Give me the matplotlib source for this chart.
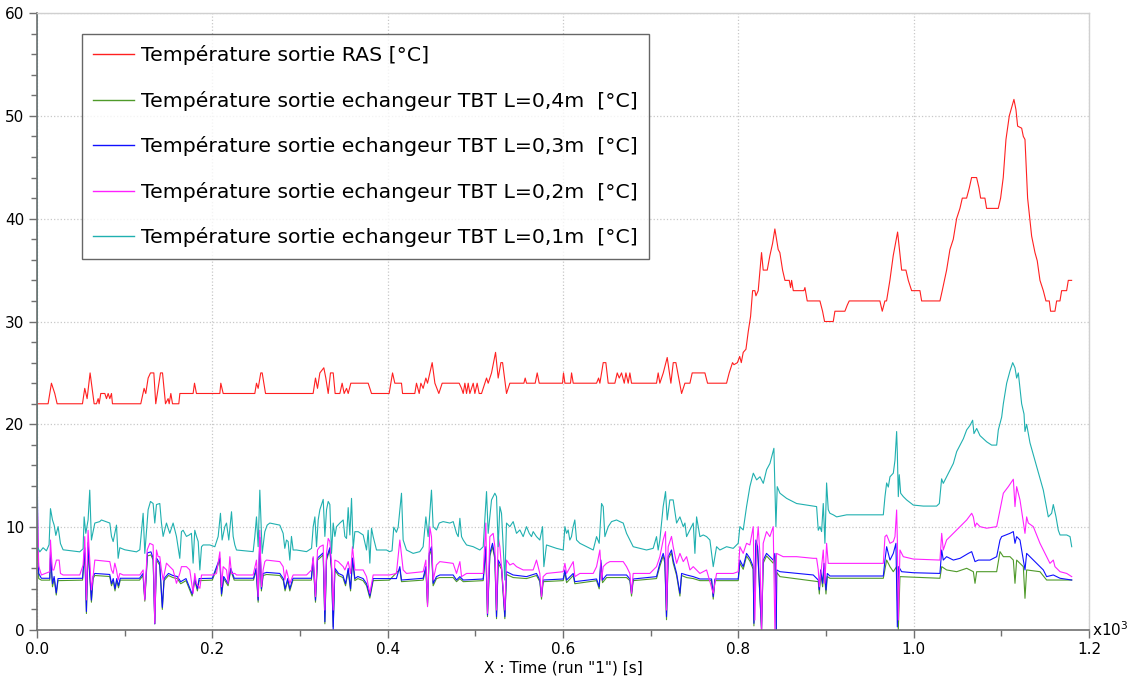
import matplotlib
matplotlib.use("Agg")
import matplotlib.pyplot as plt
from matplotlib.ticker import MultipleLocator, FuncFormatter
import numpy as np

# ---------------- data (time [s], value [°C]) ----------------
ras = [(0, 22), (12.7, 22), (16.5, 24), (20.3, 23), (23.0, 22), (51.9, 22), (54.5, 23.5), (57.2, 22.5),
       (60.6, 25), (65.2, 22), (67.9, 22), (69.8, 22.5), (70.9, 22), (72.8, 23), (77.4, 23), (79.3, 22.5),
       (81.2, 23), (83.1, 22.5), (85.0, 23), (86.1, 22), (118.4, 22), (122.2, 23.5), (124.1, 23),
       (126.8, 24.5), (129.5, 25), (133.3, 25), (135.5, 22), (138.2, 23.5), (140.9, 25), (143.2, 25),
       (146.6, 22), (149.6, 22.5), (150.8, 22), (152.7, 23), (154.6, 22), (161.8, 22), (163.0, 23),
       (178.1, 23), (179.7, 24), (181.9, 23), (208.6, 23), (209.7, 24), (212.4, 23), (248.5, 23),
       (250.4, 24), (252.3, 23.5), (255.3, 25), (256.9, 25), (260.7, 23), (315.0, 23), (317.7, 24.5),
       (320.0, 23.5), (322.7, 25), (327.2, 25.5), (329.5, 24.5), (332.2, 23), (334.8, 25), (337.9, 25),
       (340.1, 23), (345.5, 23), (348.1, 24), (350.4, 23), (353.1, 23.5), (355.0, 23), (358.0, 24),
       (377.8, 24), (379.7, 23.5), (381.6, 23), (401.7, 23), (405.6, 25), (408.2, 24), (415.8, 24),
       (417.0, 23), (431.0, 23), (432.9, 24), (436.0, 23), (437.9, 24), (440.5, 23.5), (443.6, 24.5),
       (445.5, 24), (450.8, 26), (453.9, 24), (458.4, 23), (462.2, 24), (481.6, 24), (484.3, 23.5),
       (486.2, 23), (488.1, 24), (490.0, 23), (491.9, 24), (493.8, 23), (497.6, 24), (499.5, 23),
       (502.1, 24), (504.4, 23), (507.1, 23), (512.8, 24.5), (514.7, 24), (518.5, 25), (523.1, 27),
       (526.1, 24.5), (529.2, 26), (531.1, 26), (535.6, 23), (539.4, 24), (555.4, 24), (556.9, 24.5),
       (558.4, 24), (568.3, 24), (570.6, 25), (572.9, 24), (599.5, 24), (600.6, 25), (602.2, 24),
       (608.6, 24), (609.8, 25), (611.7, 24), (638.3, 24), (640.6, 24.5), (642.1, 24), (645.9, 26),
       (648.9, 26), (651.6, 24), (659.2, 24), (661.9, 25), (664.2, 24.5), (666.8, 25), (669.9, 24),
       (671.8, 25), (674.4, 24), (676.3, 25), (678.2, 24), (706.7, 24), (708.6, 25), (710.5, 24),
       (714.4, 25), (718.9, 26.5), (723.1, 24), (725.8, 26), (728.8, 26), (735.3, 23), (739.1, 24),
       (744.8, 24), (747.4, 25), (761.9, 25), (764.9, 24), (786.6, 24), (789.6, 25), (793.4, 26),
       (795.0, 25.8), (799.0, 26), (801.6, 26.6), (803.4, 26), (805.6, 27), (808.7, 27.3), (811.3, 29),
       (814.0, 30.5), (816.3, 33), (818.9, 33), (820.1, 32.5), (822.7, 33), (826.5, 36.7), (828.4, 35),
       (833.0, 35), (836.0, 36.4), (839.1, 37.6), (841.7, 39), (845.5, 37), (847.4, 36.7), (850.5, 35),
       (853.2, 34), (858.1, 34), (859.6, 33.3), (860.8, 34), (862.7, 33), (874.8, 33), (876.0, 33.3),
       (878.6, 32), (893.1, 32), (896.1, 31), (898.4, 30), (908.3, 30), (910.2, 31), (921.6, 31),
       (924.3, 31.6), (926.5, 32), (961.5, 32), (964.2, 31), (967.2, 32), (969.1, 32), (972.9, 34),
       (976.7, 36.4), (981.7, 38.7), (986.3, 35), (991.2, 35), (993.9, 34), (997.7, 33), (1007.2, 33),
       (1009.1, 32), (1030.0, 32), (1032.6, 33), (1037.6, 35), (1041.4, 37), (1045.2, 38), (1049.0, 40),
       (1052.8, 41), (1055.5, 42), (1060.4, 42), (1063.5, 43), (1066.1, 44), (1071.8, 44), (1074.5, 43),
       (1076.4, 42), (1081.3, 42), (1083.2, 41), (1096.5, 41), (1099.2, 42), (1102.2, 44), (1105.3, 47.7),
       (1109.1, 50), (1114.4, 51.6), (1116.7, 50.6), (1118.6, 49), (1123.2, 48.8), (1125.1, 48),
       (1127.0, 47.7), (1130.0, 42), (1134.6, 38.3), (1138.4, 36.7), (1141.0, 35.9), (1144.1, 34),
       (1147.9, 33), (1150.9, 32), (1154.7, 32), (1156.2, 31), (1161.2, 31), (1163.1, 32), (1166.9, 32),
       (1168.8, 33), (1174.5, 33), (1176.4, 34), (1180.2, 34)]

tbt_01 = [(0, 62), (0.5, 8.1), (3.2, 7.6), (7.0, 8.0), (10.8, 7.7), (13.8, 8.3), (15.4, 11.8), (17.7, 10.7),
          (19.6, 10.2), (21.5, 9.2), (24.1, 10.05), (26.8, 8.4), (29.8, 7.8), (48.8, 7.6), (52.6, 7.9),
          (53.8, 11.0), (55.7, 9.4), (58.3, 10.7), (60.2, 13.6), (62.1, 8.75), (64.0, 9.56), (66.0, 10.4),
          (71.6, 10.54), (73.5, 10.7), (83.1, 10.4), (85.0, 9.1), (86.9, 8.6), (88.8, 9.4), (90.7, 10.2),
          (92.6, 6.97), (94.5, 8.0), (100.2, 7.8), (113.5, 7.6), (117.3, 7.8), (121.1, 11.35), (123.0, 7.45),
          (126.8, 11.7), (129.5, 12.5), (132.5, 12.3), (134.4, 10.4), (136.3, 12.2), (140.1, 12.3),
          (142.0, 10.4), (143.9, 9.1), (147.7, 10.4), (151.5, 9.4), (155.3, 10.4), (159.1, 9.1),
          (162.9, 6.97), (164.8, 9.56), (166.7, 9.7), (170.5, 9.1), (173.6, 9.24), (176.2, 9.4), (178.1, 6.5),
          (180.0, 9.7), (182.0, 9.1), (183.9, 8.6), (185.8, 5.84), (187.7, 8.1), (189.6, 8.27), (197.2, 8.27),
          (202.9, 8.1), (206.7, 9.1), (209.3, 11.35), (211.2, 8.75), (214.3, 10.05), (216.2, 10.4),
          (218.8, 8.75), (221.9, 11.5), (223.8, 9.1), (225.7, 8.27), (227.6, 7.78), (246.6, 7.62),
          (248.5, 9.1), (250.4, 11.0), (252.3, 8.1), (254.2, 13.6), (256.9, 7.45), (259.9, 9.56),
          (262.6, 10.2), (265.6, 10.4), (277.0, 10.2), (280.8, 9.4), (282.7, 7.94), (284.6, 8.75),
          (286.5, 8.6), (288.4, 6.8), (290.3, 9.1), (292.2, 7.78), (296.0, 7.78), (307.5, 7.62),
          (313.2, 7.94), (315.1, 10.05), (317.0, 11.0), (318.9, 8.1), (320.8, 10.7), (322.7, 11.7),
          (326.5, 12.7), (328.4, 9.1), (330.3, 11.7), (332.2, 12.5), (334.1, 12.2), (336.0, 7.45),
          (337.9, 10.4), (339.8, 9.1), (341.7, 10.05), (345.5, 10.4), (349.3, 10.7), (351.2, 9.1),
          (353.1, 8.9), (355.0, 11.9), (356.9, 9.24), (358.8, 12.8), (360.7, 7.94), (362.6, 9.56),
          (366.4, 9.56), (372.1, 9.24), (375.9, 7.78), (377.8, 9.7), (379.7, 6.5), (381.6, 9.9),
          (383.5, 9.08), (387.3, 7.78), (398.7, 7.78), (402.0, 7.62), (405.0, 7.7), (407.0, 10.0),
          (410.0, 9.5), (412.0, 10.0), (415.8, 13.3), (417.7, 8.75), (421.5, 7.78), (429.1, 7.45),
          (436.7, 7.62), (440.5, 8.1), (443.6, 11.0), (446.2, 9.08), (450.0, 13.6), (451.9, 10.05),
          (455.7, 9.73), (458.8, 10.4), (463.3, 10.54), (471.0, 10.4), (474.8, 10.54), (478.6, 9.4),
          (480.5, 9.08), (482.4, 10.86), (484.3, 9.08), (486.2, 8.75), (490.0, 8.27), (497.6, 8.1),
          (505.2, 7.78), (509.0, 8.1), (510.9, 10.7), (512.8, 13.46), (514.7, 9.4), (518.5, 12.65),
          (522.3, 13.3), (524.2, 12.97), (526.1, 8.1), (528.0, 12.0), (529.9, 11.35), (533.7, 4.86),
          (535.6, 10.4), (539.4, 10.05), (543.2, 10.54), (547.0, 9.4), (550.8, 9.73), (554.6, 9.08),
          (558.4, 10.05), (561.5, 9.4), (564.1, 9.08), (566.0, 9.57), (569.8, 9.08), (573.6, 8.75),
          (576.7, 10.05), (578.2, 6.16), (581.2, 8.27), (592.6, 7.94), (600.3, 7.78), (602.2, 10.05),
          (604.1, 9.4), (605.9, 9.73), (607.8, 8.75), (609.7, 9.08), (611.6, 10.05), (613.5, 10.7),
          (615.5, 8.75), (619.3, 8.43), (626.9, 8.1), (634.5, 7.78), (638.3, 9.08), (641.3, 8.43),
          (644.0, 12.3), (645.9, 12.0), (647.8, 9.08), (651.6, 10.05), (655.4, 10.54), (661.1, 10.7),
          (664.9, 10.54), (668.7, 10.4), (672.5, 9.4), (676.3, 8.75), (680.1, 8.1), (687.7, 7.94),
          (695.3, 7.78), (702.9, 7.94), (706.7, 9.08), (708.6, 7.78), (710.5, 8.75), (714.3, 12.0),
          (717.0, 13.46), (718.9, 10.7), (721.9, 12.65), (725.7, 12.65), (729.6, 10.4), (733.4, 11.0),
          (737.2, 10.05), (739.1, 10.4), (741.0, 9.08), (744.8, 9.73), (748.6, 10.4), (750.5, 7.45),
          (752.4, 11.0), (756.2, 9.08), (760.0, 9.24), (763.8, 9.08), (767.6, 8.75), (771.4, 6.16),
          (775.2, 8.1), (779.0, 7.78), (786.6, 8.1), (794.2, 7.94), (799.9, 8.43), (801.8, 10.05),
          (805.6, 9.73), (809.4, 12.0), (813.2, 13.94), (817.1, 15.25), (820.9, 14.6), (824.7, 14.9),
          (828.5, 14.26), (832.3, 15.6), (836.1, 16.2), (840.6, 17.67), (842.9, 10.05), (844.4, 13.94),
          (847.5, 13.3), (855.1, 12.8), (866.5, 12.3), (877.9, 12.15), (889.3, 12.0), (891.2, 9.7),
          (893.1, 10.05), (895.0, 9.57), (896.9, 12.3), (898.8, 8.43), (900.7, 14.3), (902.6, 11.7),
          (904.5, 11.35), (908.3, 11.2), (912.2, 11.0), (923.6, 11.2), (942.6, 11.2), (965.4, 11.2),
          (967.3, 12.97), (969.2, 14.3), (971.1, 13.9), (973.0, 14.9), (976.8, 15.25), (978.7, 16.5),
          (980.6, 19.3), (981.4, 17.2), (982.5, 12.97), (983.6, 15.1), (985.2, 13.3), (988.2, 12.97),
          (992.0, 12.65), (999.6, 12.15), (1011.0, 12.05), (1026.2, 12.05), (1029.3, 12.3), (1031.9, 14.7),
          (1033.8, 14.26), (1037.6, 14.9), (1045.3, 16.2), (1049.1, 17.35), (1052.9, 17.98), (1056.7, 18.6),
          (1060.5, 19.46), (1064.3, 19.9), (1067.3, 20.4), (1068.8, 19.1), (1071.9, 19.6), (1075.7, 18.9),
          (1083.3, 18.3), (1089.0, 17.98), (1094.7, 17.98), (1096.6, 19.46), (1100.4, 20.7), (1102.3, 22.0),
          (1106.1, 24.0), (1109.9, 25.2), (1113.0, 26.0), (1115.6, 25.5), (1117.5, 24.5), (1119.4, 25.0),
          (1123.2, 22.0), (1125.9, 21.0), (1127.0, 19.3), (1128.9, 20.0), (1132.7, 18.2), (1140.3, 15.9),
          (1147.9, 13.6), (1153.6, 11.0), (1157.4, 11.35), (1159.3, 12.2), (1162.4, 11.0), (1165.0, 9.7),
          (1167.0, 9.24), (1174.6, 9.24), (1178.4, 9.08), (1180.3, 8.1)]

tbt_02 = [(0, 12.0), (0.5, 12.0), (2.0, 6.2), (5.1, 5.35), (14.6, 5.67), (15.4, 8.75), (16.5, 7.13),
          (17.7, 5.84), (19.2, 5.84), (22.2, 6.8), (25.3, 6.8), (26.8, 5.5), (29.8, 5.35), (48.8, 5.35),
          (52.6, 6.3), (54.5, 9.08), (56.4, 2.92), (58.3, 9.7), (60.2, 6.8), (62.1, 3.9), (64.0, 5.19),
          (66.0, 6.8), (83.1, 6.65), (85.0, 5.84), (86.9, 5.5), (88.8, 6.5), (90.7, 5.84), (92.6, 4.86),
          (94.5, 5.5), (98.3, 5.35), (117.3, 5.35), (121.1, 5.84), (123.0, 2.92), (125.7, 7.78),
          (128.7, 8.43), (132.5, 8.27), (134.4, 0.65), (136.3, 7.78), (138.2, 7.13), (140.1, 7.13),
          (142.0, 5.84), (143.9, 4.86), (147.7, 6.5), (151.5, 6.16), (155.3, 5.84), (159.1, 4.54),
          (162.9, 5.5), (164.8, 6.16), (170.5, 6.16), (174.3, 5.84), (178.1, 3.57), (180.0, 5.5),
          (181.9, 4.54), (185.8, 4.05), (187.7, 5.35), (201.0, 5.35), (204.8, 5.5), (208.6, 7.6),
          (210.5, 4.2), (212.4, 6.16), (216.2, 5.84), (218.1, 4.54), (220.0, 7.13), (221.9, 5.5),
          (225.7, 5.5), (227.6, 5.35), (246.6, 5.35), (250.4, 6.8), (252.3, 3.24), (254.2, 9.7),
          (256.1, 4.2), (258.0, 5.84), (259.9, 6.65), (261.8, 6.8), (277.0, 6.65), (280.8, 6.16),
          (282.7, 4.86), (284.6, 5.84), (288.4, 4.54), (292.2, 5.35), (307.5, 5.35), (313.2, 5.84),
          (315.1, 7.13), (317.7, 3.24), (320.0, 7.78), (322.7, 8.1), (326.5, 8.27), (328.4, 1.94),
          (330.3, 7.45), (332.2, 8.9), (334.1, 8.6), (336.0, 6.5), (337.9, 1.94), (339.8, 6.8),
          (343.6, 6.65), (349.3, 6.16), (351.2, 5.84), (355.0, 6.65), (357.7, 5.5), (359.9, 8.1),
          (362.6, 5.84), (366.4, 5.84), (372.1, 5.84), (375.9, 5.19), (379.7, 3.57), (383.5, 5.35),
          (402.0, 5.35), (410.0, 5.5), (413.9, 8.75), (417.7, 5.84), (421.5, 5.5), (440.5, 5.67),
          (443.6, 6.8), (445.5, 2.27), (448.1, 10.05), (450.0, 9.08), (451.9, 4.86), (455.7, 6.32),
          (459.5, 6.65), (474.7, 6.48), (478.6, 5.5), (482.4, 6.65), (484.3, 5.19), (490.0, 5.5),
          (509.0, 5.5), (512.0, 10.4), (513.9, 1.62), (516.6, 9.08), (520.4, 9.4), (522.3, 8.1),
          (524.2, 1.94), (526.1, 9.08), (528.0, 8.1), (533.7, 1.94), (535.6, 6.8), (539.4, 6.32),
          (543.2, 6.48), (547.0, 6.16), (554.6, 5.84), (566.0, 5.84), (569.8, 6.8), (573.6, 5.5),
          (575.5, 3.24), (577.4, 5.19), (581.2, 5.5), (600.3, 5.67), (602.2, 6.48), (604.1, 5.5),
          (611.7, 6.65), (613.6, 5.19), (619.3, 5.5), (634.5, 5.5), (638.3, 6.16), (642.1, 7.78),
          (644.0, 4.86), (645.9, 6.16), (649.7, 6.48), (653.5, 6.65), (668.7, 6.65), (672.5, 6.16),
          (676.3, 5.5), (678.2, 3.57), (680.1, 5.5), (699.1, 5.5), (706.7, 6.16), (710.5, 7.13),
          (714.3, 8.75), (717.0, 9.57), (718.1, 1.94), (720.0, 8.1), (723.8, 9.1), (725.7, 8.1),
          (729.6, 6.48), (733.4, 7.45), (737.2, 6.65), (741.0, 7.13), (744.8, 5.84), (748.6, 6.16),
          (756.2, 5.5), (763.8, 5.84), (771.4, 3.57), (775.2, 5.5), (794.2, 5.5), (799.9, 5.67),
          (801.8, 8.1), (805.6, 7.45), (809.4, 8.43), (813.2, 8.27), (817.0, 10.05), (818.9, 0.97),
          (820.8, 8.1), (822.7, 10.05), (824.6, 7.45), (826.5, 0.0), (828.4, 8.43), (832.2, 9.57),
          (836.0, 9.08), (839.8, 10.05), (841.7, 0.0), (843.6, 7.45), (851.2, 7.13), (866.5, 7.13),
          (885.5, 6.97), (889.3, 6.97), (891.2, 5.84), (892.4, 4.2), (895.0, 6.16), (896.9, 7.78),
          (898.8, 4.54), (900.7, 8.43), (902.6, 6.48), (904.5, 6.48), (965.4, 6.48), (967.3, 9.08),
          (969.2, 9.24), (973.0, 8.43), (976.8, 8.6), (978.7, 9.08), (980.6, 11.67), (981.4, 8.75),
          (982.5, 0.97), (984.4, 7.78), (988.2, 7.13), (999.6, 6.9), (1030.0, 6.8), (1032.0, 9.4),
          (1033.8, 7.78), (1037.6, 8.75), (1045.3, 9.4), (1052.9, 10.05), (1060.5, 10.7), (1066.2, 11.35),
          (1068.1, 11.0), (1070.0, 10.05), (1071.9, 10.4), (1075.7, 10.05), (1083.3, 9.9), (1094.7, 10.05),
          (1098.5, 11.67), (1102.3, 13.3), (1108.0, 13.94), (1113.7, 14.66), (1115.6, 12.0), (1117.5, 13.94),
          (1121.3, 12.65), (1127.0, 9.4), (1128.9, 11.0), (1130.8, 10.4), (1136.5, 10.05), (1144.1, 8.43),
          (1151.7, 7.13), (1155.5, 6.48), (1159.3, 6.8), (1161.2, 6.16), (1167.0, 5.67), (1174.6, 5.5),
          (1180.3, 5.19)]

tbt_03 = [(0, 18.5), (1.0, 9.0), (2.0, 5.5), (5.0, 5.03), (14.6, 5.03), (15.4, 7.6), (17.7, 4.5), (19.6, 5.2),
          (22.0, 3.6), (24.0, 5.0), (52.0, 5.03), (54.5, 8.0), (56.4, 1.8), (58.3, 8.5), (60.2, 5.5),
          (62.1, 2.9), (64.0, 5.2), (66.0, 5.5), (83.0, 5.4), (85.0, 4.5), (87.0, 5.0), (89.0, 4.0),
          (91.0, 5.0), (93.0, 4.3), (95.0, 5.03), (117.0, 5.03), (121.0, 5.5), (123.0, 3.0), (126.0, 7.5),
          (130.0, 7.6), (132.5, 7.0), (134.4, 0.6), (136.3, 7.0), (140.0, 6.5), (143.0, 2.2), (145.0, 5.0),
          (150.0, 5.5), (155.0, 5.3), (160.0, 5.2), (164.0, 4.7), (170.0, 5.0), (177.0, 3.5), (180.0, 5.0),
          (183.0, 4.0), (185.0, 5.0), (200.0, 5.03), (208.6, 7.0), (210.5, 3.5), (213.0, 5.2), (218.0, 4.5),
          (221.0, 6.0), (225.0, 5.03), (247.0, 5.03), (250.0, 6.0), (252.3, 2.9), (254.2, 9.0), (256.0, 4.0),
          (258.0, 5.5), (262.0, 5.6), (277.0, 5.5), (281.0, 5.0), (283.0, 4.0), (286.0, 5.0), (288.4, 4.0),
          (292.0, 5.03), (313.0, 5.03), (315.0, 7.0), (317.7, 2.9), (320.0, 7.0), (326.5, 7.5), (328.4, 0.8),
          (330.3, 7.0), (334.0, 8.0), (336.0, 6.0), (337.9, 0.0), (339.8, 6.0), (344.0, 5.5), (349.0, 5.3),
          (352.0, 4.5), (355.0, 6.0), (357.7, 4.0), (360.0, 7.0), (362.6, 5.0), (366.0, 5.2), (372.0, 5.0),
          (376.0, 4.5), (379.7, 3.3), (383.5, 5.0), (402.0, 5.0), (410.0, 5.0), (413.9, 6.16), (415.8, 4.86),
          (440.5, 5.03), (443.6, 6.16), (445.5, 2.6), (447.4, 7.45), (450.0, 8.1), (451.9, 4.54),
          (455.7, 5.19), (459.5, 5.35), (474.7, 5.35), (478.6, 4.86), (482.4, 5.19), (486.2, 4.86),
          (509.0, 4.96), (512.0, 8.1), (513.9, 1.46), (516.6, 7.45), (519.6, 8.43), (522.3, 7.13),
          (524.2, 1.3), (526.1, 6.8), (529.9, 6.16), (533.7, 1.3), (535.6, 5.67), (543.2, 5.35),
          (558.4, 5.19), (569.8, 5.5), (573.6, 4.86), (575.5, 3.24), (577.4, 4.86), (600.3, 4.96),
          (602.2, 5.84), (604.1, 4.86), (611.7, 5.5), (613.5, 4.7), (638.3, 4.96), (641.3, 4.2),
          (643.2, 6.8), (645.1, 4.86), (649.7, 5.35), (672.5, 5.35), (676.3, 4.96), (678.2, 3.57),
          (680.1, 4.96), (706.7, 5.19), (710.5, 6.48), (714.3, 7.45), (716.2, 6.8), (718.1, 1.3),
          (720.0, 7.13), (723.8, 7.78), (725.7, 6.8), (729.6, 5.5), (733.4, 3.57), (735.3, 5.5),
          (741.0, 5.35), (748.6, 5.19), (756.2, 4.96), (769.5, 4.96), (771.4, 3.24), (773.3, 4.96),
          (799.9, 4.96), (801.8, 6.8), (805.6, 6.16), (809.4, 7.45), (813.2, 6.97), (817.0, 6.16),
          (817.8, 0.65), (820.1, 8.75), (822.0, 8.1), (826.5, 0.0), (828.4, 6.8), (832.2, 7.45),
          (839.8, 6.8), (841.7, 7.45), (843.3, 0.0), (843.8, 5.84), (847.5, 5.67), (885.5, 5.35),
          (891.2, 4.86), (892.4, 3.9), (893.9, 5.84), (896.2, 4.54), (897.7, 6.48), (900.0, 3.89),
          (901.5, 5.5), (904.5, 5.25), (965.4, 5.25), (967.3, 6.8), (969.2, 8.1), (973.0, 6.8),
          (976.8, 7.45), (979.8, 8.43), (981.4, 0.3), (982.9, 6.16), (986.3, 5.67), (999.6, 5.57),
          (1030.0, 5.5), (1032.0, 7.78), (1033.8, 6.8), (1037.6, 7.13), (1045.3, 6.8), (1052.9, 6.97),
          (1062.4, 7.45), (1066.2, 7.62), (1070.0, 6.65), (1073.8, 6.8), (1087.1, 6.8), (1094.7, 7.13),
          (1098.5, 8.75), (1100.4, 9.08), (1109.9, 9.4), (1113.7, 9.57), (1115.6, 8.43), (1117.5, 9.08),
          (1121.3, 8.75), (1127.0, 5.84), (1128.9, 7.45), (1136.5, 6.8), (1144.1, 6.16), (1147.9, 5.84),
          (1151.7, 5.19), (1159.3, 5.35), (1167.0, 5.03), (1180.3, 4.86)]

tbt_04 = [(0, 36.0), (0.5, 8.0), (2.0, 5.0), (5.0, 4.85), (14.6, 4.85), (15.4, 7.0), (17.7, 4.2), (19.6, 5.0),
          (22.0, 3.4), (24.0, 4.8), (52.0, 4.85), (54.5, 7.5), (56.4, 1.6), (58.3, 8.0), (60.2, 5.2),
          (62.1, 2.7), (64.0, 5.0), (66.0, 5.3), (83.0, 5.2), (85.0, 4.3), (87.0, 4.8), (89.0, 3.8),
          (91.0, 4.8), (93.0, 4.1), (95.0, 4.85), (117.0, 4.85), (121.0, 5.3), (123.0, 2.8), (126.0, 7.2),
          (130.0, 7.3), (132.5, 6.8), (134.4, 0.6), (136.3, 6.8), (140.0, 6.3), (143.0, 2.0), (145.0, 4.8),
          (150.0, 5.3), (155.0, 5.1), (160.0, 5.0), (164.0, 4.5), (170.0, 4.8), (177.0, 3.3), (180.0, 4.8),
          (183.0, 3.8), (185.0, 4.8), (200.0, 4.85), (208.6, 6.8), (210.5, 3.3), (213.0, 5.0), (218.0, 4.3),
          (221.0, 5.8), (225.0, 4.85), (247.0, 4.85), (250.0, 5.8), (252.3, 2.7), (254.2, 8.7), (256.0, 3.8),
          (258.0, 5.3), (262.0, 5.4), (277.0, 5.3), (281.0, 4.8), (283.0, 3.8), (286.0, 4.8), (288.4, 3.8),
          (292.0, 4.85), (313.0, 4.85), (315.0, 6.8), (317.7, 2.7), (320.0, 6.8), (326.5, 7.3), (328.4, 0.6),
          (330.3, 6.8), (334.0, 7.8), (336.0, 5.8), (337.9, 0.3), (339.8, 5.8), (344.0, 5.3), (349.0, 5.1),
          (352.0, 4.3), (355.0, 5.8), (357.7, 3.8), (360.0, 6.8), (362.6, 4.8), (366.0, 5.0), (372.0, 4.8),
          (376.0, 4.3), (379.7, 3.1), (383.5, 4.8), (402.0, 4.85), (413.9, 5.9), (415.8, 4.7), (440.5, 4.85),
          (443.6, 5.9), (445.5, 2.4), (447.4, 7.2), (450.0, 7.8), (451.9, 4.3), (455.7, 5.0), (459.5, 5.1),
          (474.7, 5.1), (478.6, 4.7), (482.4, 5.0), (486.2, 4.7), (509.0, 4.8), (512.0, 7.8), (513.9, 1.3),
          (516.6, 7.2), (519.6, 8.1), (522.3, 6.9), (524.2, 1.1), (526.1, 6.5), (529.9, 5.9), (533.7, 1.1),
          (535.6, 5.4), (543.2, 5.1), (558.4, 5.0), (569.8, 5.3), (573.6, 4.7), (575.5, 3.0), (577.4, 4.7),
          (600.3, 4.8), (602.2, 5.6), (604.1, 4.6), (611.7, 5.3), (613.5, 4.5), (638.3, 4.8), (641.3, 4.0),
          (643.2, 6.5), (645.1, 4.6), (649.7, 5.1), (672.5, 5.1), (676.3, 4.8), (678.2, 3.3), (680.1, 4.8),
          (706.7, 5.0), (710.5, 6.2), (714.3, 7.2), (716.2, 6.5), (718.1, 1.0), (720.0, 6.9), (723.8, 7.5),
          (725.7, 6.5), (729.6, 5.3), (733.4, 3.3), (735.3, 5.3), (741.0, 5.1), (748.6, 5.0), (756.2, 4.8),
          (769.5, 4.8), (771.4, 3.0), (773.3, 4.8), (799.9, 4.8), (801.8, 6.5), (805.6, 5.9), (809.4, 7.2),
          (813.2, 6.7), (817.0, 5.9), (817.8, 0.4), (820.1, 8.4), (822.0, 7.8), (826.5, 0.0), (828.4, 6.5),
          (832.2, 7.2), (839.8, 6.5), (841.7, 7.2), (843.3, 0.0), (843.8, 5.6), (847.5, 5.19), (891.2, 4.7),
          (892.4, 3.5), (893.9, 5.5), (896.2, 4.2), (897.7, 6.0), (900.0, 3.5), (901.5, 5.2), (904.5, 5.03),
          (965.4, 5.03), (969.2, 6.8), (973.0, 6.16), (976.8, 5.67), (980.6, 6.16), (982.5, 0.0),
          (984.4, 5.19), (1030.0, 5.03), (1032.0, 6.16), (1037.6, 5.84), (1049.1, 5.67), (1060.5, 6.0),
          (1068.1, 5.67), (1070.0, 4.54), (1071.9, 5.67), (1094.7, 5.67), (1098.5, 7.62), (1102.3, 7.13),
          (1109.9, 7.13), (1113.7, 6.8), (1115.6, 4.54), (1117.5, 6.8), (1125.1, 6.16), (1127.0, 3.08),
          (1128.9, 5.84), (1144.1, 5.67), (1151.7, 4.86), (1180.3, 4.86)]

series_labels = ["Température sortie RAS [°C]",
                 "Température sortie echangeur TBT L=0,4m  [°C]",
                 "Température sortie echangeur TBT L=0,3m  [°C]",
                 "Température sortie echangeur TBT L=0,2m  [°C]",
                 "Température sortie echangeur TBT L=0,1m  [°C]"]
series_data = [ras, tbt_04, tbt_03, tbt_02, tbt_01]
series_colors = ["#ff2020", "#4f9a2a", "#1010ff", "#ff20ff", "#20b0b0"]

x_ticks = [0.0, 0.2, 0.4, 0.6, 0.8, 1.0, 1.2]
y_ticks = [0, 10, 20, 30, 40, 50, 60]

# ---------------- figure ----------------
fig = plt.figure(figsize=(11.34, 6.85), dpi=100)
ax = fig.add_axes([0.0326, 0.0803, 0.9277, 0.9007])

for data, col, lab in zip(series_data, series_colors, series_labels):
    arr = np.array(data, dtype=float)
    ax.plot(arr[:, 0] / 1000.0, arr[:, 1], color=col, lw=0.8, label=lab)

ax.set_xlim(0, 1.2)
ax.set_ylim(0, 60)
ax.set_xticks(x_ticks)
ax.set_yticks(y_ticks)
ax.xaxis.set_minor_locator(MultipleLocator(0.1))
ax.yaxis.set_minor_locator(MultipleLocator(2))
ax.xaxis.set_major_formatter(FuncFormatter(lambda v, p: f"{v:.1f}"))
ax.tick_params(axis="both", which="major", direction="out", length=6, width=1,
               color="#707070", labelsize=11, pad=3)
ax.tick_params(axis="both", which="minor", direction="out", length=4, width=1,
               color="#707070")
ax.grid(True, which="major", linestyle=":", color="#c8c8c8", lw=0.9)

for s in ("left", "bottom"):
    ax.spines[s].set_color("#707070")
    ax.spines[s].set_linewidth(1.2)
for s in ("top", "right"):
    ax.spines[s].set_color("#d0d0d0")
    ax.spines[s].set_linewidth(1.0)

ax.set_xlabel('X : Time (run "1") [s]', fontsize=11, labelpad=2)
ax.text(1.003, 0.0, r"x10$^3$", transform=ax.transAxes, fontsize=11,
        ha="left", va="center")

leg = ax.legend(loc="upper left", bbox_to_anchor=(0.0428, 0.966), fontsize=14.7,
                frameon=True, fancybox=False, borderaxespad=0, handlelength=2.0,
                handletextpad=0.35, labelspacing=1.25, borderpad=0.55)
leg.get_frame().set_edgecolor("#404040")
leg.get_frame().set_linewidth(1.0)
for line in leg.get_lines():
    line.set_linewidth(1.0)

fig.savefig("out.png", dpi=100)
